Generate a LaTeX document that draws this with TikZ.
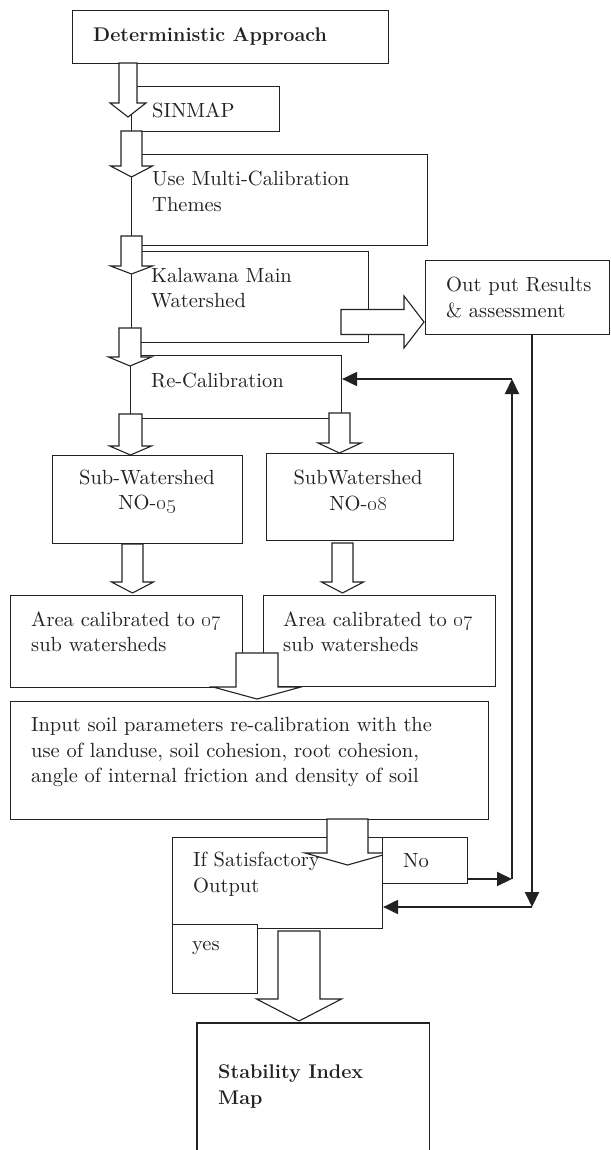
\documentclass[tikz,border=0pt]{standalone}
\usetikzlibrary{arrows.meta,calc}
\definecolor{ink}{HTML}{222222}

% text face for the box labels (regular 10pt design, scaled)
\font\lblface="[lmroman10-regular.otf]" at 20.5pt

% hollow block arrow pointing down: start, tip, shaft half-width, head half-width, head length
\newcommand\blockdown[5]{%
  \draw[blk] ($(#1)+(-#3,0)$) -- ($(#2)+(-#3,-#5)$) -- ($(#2)+(-#4,-#5)$) -- (#2)
    -- ($(#2)+(#4,-#5)$) -- ($(#2)+(#3,-#5)$) -- ($(#1)+(#3,0)$) -- cycle;}
% hollow block arrow pointing right: start, tip, shaft half-height, head half-height, head length
\newcommand\blockright[5]{%
  \draw[blk] ($(#1)+(0,-#3)$) -- ($(#2)+(-#5,-#3)$) -- ($(#2)+(-#5,-#4)$) -- (#2)
    -- ($(#2)+(-#5,#4)$) -- ($(#2)+(-#5,#3)$) -- ($(#1)+(0,#3)$) -- cycle;}

\begin{document}
\begin{tikzpicture}[x=1pt,y=-1pt,
  box/.style={draw=ink,line width=1.1pt,fill=white,inner sep=0pt,anchor=north west},
  lbl/.style={inner sep=0pt,anchor=west,align=left,text=ink,
    font=\fontsize{20.5}{25.5}\selectfont\lblface},
  clbl/.style={lbl,anchor=center,align=center},
  blbl/.style={inner sep=0pt,anchor=west,align=left,text=ink,
    font=\fontsize{19.8}{26}\selectfont\bfseries},
  blk/.style={draw=ink,line width=1.1pt,fill=white,line join=miter},
  fb/.style={draw=ink,line width=2pt,-{Triangle[length=15pt,width=14pt]}},
]
\useasboundingbox (0,0) rectangle (610,1150);

% boxes
\node[box,minimum width=316pt,minimum height=53pt] (det)    at (72,10)  {};
\node[box,minimum width=148pt,minimum height=45pt] (sinmap) at (131,86) {};
\node[box,minimum width=296pt,minimum height=91pt] (multi)  at (131,154) {};
\node[box,minimum width=237pt,minimum height=91pt] (kal)    at (131,251) {};
\node[box,minimum width=211pt,minimum height=63pt] (recal)  at (130,355) {};
\node[box,minimum width=184pt,minimum height=74pt] (output) at (425,260) {};
\node[box,minimum width=190pt,minimum height=88pt] (sub5)   at (52,455) {};
\node[box,minimum width=187pt,minimum height=87pt] (sub8)   at (266,453) {};
\node[box,minimum width=232pt,minimum height=92pt] (area1)  at (10,595) {};
\node[box,minimum width=232pt,minimum height=91pt] (area2)  at (263,595) {};
\node[box,minimum width=478pt,minimum height=118pt] (input) at (10,701) {};
\node[box,minimum width=210pt,minimum height=91pt] (ifbox)  at (172,837) {};
\node[box,minimum width=85pt,minimum height=69pt]  (yes)    at (172,924) {};
\node[box,draw=none,minimum width=231pt,minimum height=140pt] (stab) at (197,1023) {};
\draw[ink,line width=1.1pt] (stab.south west) -- (stab.north west)
  -- (stab.north east) -- (stab.south east);

% block arrows
\coordinate (a1s) at (128,63);    \coordinate (a1t) at (128,117);
\coordinate (a2s) at (131.5,131); \coordinate (a2t) at (131.5,177);
\coordinate (a3s) at (131.5,236); \coordinate (a3t) at (131.5,274);
\coordinate (a4s) at (130,328);   \coordinate (a4t) at (130,366);
\coordinate (a5s) at (130.5,414); \coordinate (a5t) at (130.5,455);
\coordinate (a6s) at (339.5,413); \coordinate (a6t) at (339.5,453);
\coordinate (a7s) at (132.5,544); \coordinate (a7t) at (132.5,593);
\coordinate (a8s) at (342.5,543); \coordinate (a8t) at (342.5,593);
\coordinate (a9s) at (257,653);   \coordinate (a9t) at (257,699);
\coordinate (a10s) at (347.5,819); \coordinate (a10t) at (347.5,865);
\coordinate (a11s) at (299,931);  \coordinate (a11t) at (299,1021);
\coordinate (ars) at (341,322);   \coordinate (art) at (424,322);

\blockdown{a1s}{a1t}{9}{18}{14}
\blockdown{a2s}{a2t}{10.5}{21}{11}
\blockdown{a3s}{a3t}{10.5}{21}{8}
\blockdown{a4s}{a4t}{11}{21.5}{9}
\blockdown{a5s}{a5t}{11.5}{21}{9}
\blockdown{a6s}{a6t}{10.5}{21.5}{10}
\blockdown{a7s}{a7t}{10.5}{21}{11}
\blockdown{a8s}{a8t}{10.5}{21}{11}
\blockdown{a9s}{a9t}{21}{44}{12}
\blockdown{a10s}{a10t}{20.5}{42.5}{12}
\blockdown{a11s}{a11t}{21}{42.5}{22}
\blockright{ars}{art}{12.5}{26}{20}

% "No" branch box sits over the arrow head
\node[box,minimum width=85pt,minimum height=46pt] (nobox) at (382,837) {};

% feedback loops
\coordinate (noturn) at (512,879);
\coordinate (upturn) at (512,379);
\coordinate (downend) at (532,907);
\draw[fb] (nobox.east |- noturn) -- (noturn);
\draw[fb] (noturn) -- (upturn);
\draw[fb] (upturn) -- (upturn -| recal.east);
\draw[fb] (output.south -| downend) -- (downend);
\draw[fb] (downend) -- (downend -| ifbox.east);

% labels
\node[blbl] (tdet) at (93,36) {Deterministic Approach};
\node[lbl] (tsin) at (152,110) {SINMAP};
\node[lbl] (tmulti) at (152,191.5) {Use Multi-Calibration\\Themes};
\node[lbl] (tkal) at (151,288) {Kalawana Main\\Watershed};
\node[lbl] (trecal) at (151,380) {Re-Calibration};
\node[lbl] (tout) at (446,297.5) {Out put Results\\\& assessment};
\node[clbl] (tsub5) at (147,492) {Sub-Watershed\\NO-\oldstylenums{05}};
\node[clbl] (tsub8) at (358,490.5) {SubWatershed\\NO-\oldstylenums{08}};
\node[lbl] (tarea1) at (31,632) {Area calibrated to \oldstylenums{07}\\sub watersheds};
\node[lbl] (tarea2) at (283,632) {Area calibrated to \oldstylenums{07}\\sub watersheds};
\node[lbl] (tinput) at (31,752) {Input soil parameters re-calibration with the\\use of landuse, soil cohesion, root cohesion,\\angle of internal friction and density of soil};
\node[lbl] (tif) at (193,874.5) {If Satisfactory\\Output};
\node[lbl] (tno) at (403,861) {No};
\node[lbl] (tyes) at (192,948) {yes};
\node[blbl] (tstab) at (218,1086.5) {Stability Index\\Map};
\end{tikzpicture}
\end{document}
